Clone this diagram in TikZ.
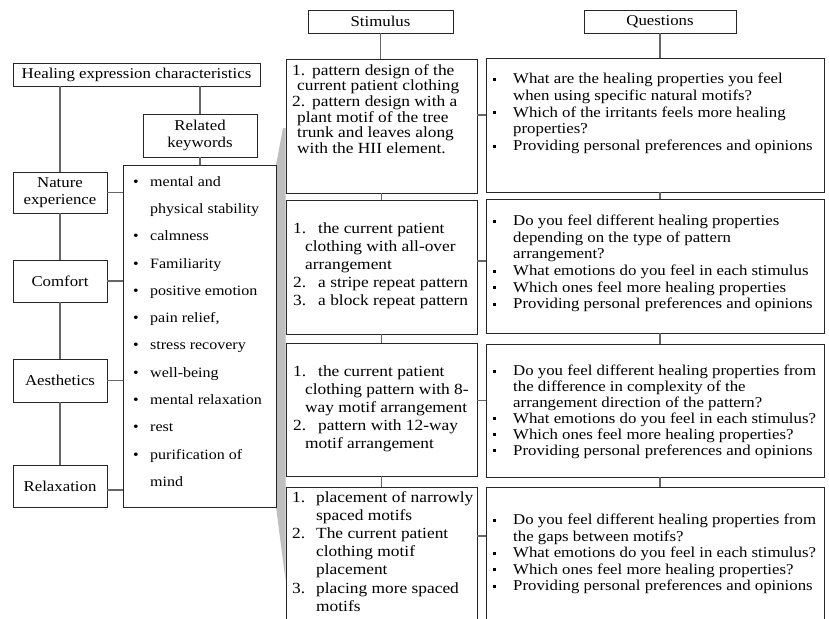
\documentclass[tikz,border=0pt]{standalone}
\usepackage{fontspec}
\setmainfont{Liberation Serif}[FakeStretch=1.12]
\usetikzlibrary{positioning}
\tikzset{
    box/.style = {rectangle, draw=black!85, line width=0.9pt, inner sep=0pt, align=center, font=\fontsize{15}{17}\selectfont},
    link/.style = {draw=black!60, line width=1.1pt},
    txt/.style = {anchor=north west, inner sep=0pt, align=left, font=\fontsize{15}{#1}\selectfont},
    stxt/.style = {anchor=north west, inner sep=0pt, align=left, font=\fontsize{15.5}{#1}\selectfont},
    kwtxt/.style = {anchor=north west, inner sep=0pt, align=left, font=\fontsize{14.3}{27.3}\selectfont},
    callout/.style = {fill=black!25, draw=none}
}
\newcommand{\numl}[2]{\makebox[#1][l]{#2}}
\newcommand{\qb}{\makebox[20pt][l]{\rule[3pt]{3pt}{3pt}}}
\newcommand{\qi}{\hspace*{20pt}}
\newcommand{\kb}{\makebox[17pt][l]{\textbullet}}

\begin{document}
\begin{tikzpicture}[x=1pt,y=-1pt]
\useasboundingbox (0,0) rectangle (829,618);
\clip (0,0) rectangle (829,618);
%
\fill[callout] (276,165) -- (283,128) -- (285.5,128) -- (285.5,580) -- (276,507) -- cycle;
%
\node[box, minimum width=247pt, minimum height=23pt] at (136.5,74.5) (heal) {Healing expression characteristics};
\node[box, minimum width=114pt, minimum height=43pt] at (200,135.5) (rel) {Related\\keywords};
\node[box, fill=white, minimum width=153pt, minimum height=342pt] at (199.5,336) (kw) {};
\node[box, minimum width=94pt, minimum height=41pt] at (60,192.5) (nat) {Nature\\experience};
\node[box, minimum width=94pt, minimum height=42pt] at (60,281) (com) {Comfort};
\node[box, minimum width=94pt, minimum height=43pt] at (60,380.5) (aes) {Aesthetics};
\node[box, minimum width=94pt, minimum height=42pt] at (60,486) (rlx) {Relaxation};
%
\node[kwtxt] at (133,176) (kwt) {\kb mental and\\ \hspace*{17pt}physical stability\\ \kb calmness\\ \kb Familiarity\\ \kb positive emotion\\ \kb pain relief,\\ \kb stress recovery\\ \kb well-being\\ \kb mental relaxation\\ \kb rest\\ \kb purification of\\ \hspace*{17pt}mind};
%
\node[box, minimum width=145pt, minimum height=23pt] at (380.5,21.5) (shead) {Stimulus};
\node[box, minimum width=152pt, minimum height=23pt] at (660,21.5) (qhead) {Questions};
%
\node[box, minimum width=191pt, minimum height=134pt] at (381.5,126) (s1) {};
\node[box, minimum width=191pt, minimum height=134pt] at (381.5,267) (s2) {};
\node[box, minimum width=191pt, minimum height=133pt] at (381.5,409.5) (s3) {};
\node[box, minimum width=191pt, minimum height=160pt] at (381.5,567) (s4) {};
\node[box, minimum width=338pt, minimum height=134pt] at (655,125) (q1) {};
\node[box, minimum width=338pt, minimum height=134pt] at (655,266) (q2) {};
\node[box, minimum width=338pt, minimum height=133pt] at (655,410.5) (q3) {};
\node[box, minimum width=338pt, minimum height=160pt] at (655,567) (q4) {};
%
\node[stxt=15.7] at (292,64) (s1t) {\numl{20pt}{1.}pattern design of the\\ \hspace*{5pt}current patient clothing\\ \numl{20pt}{2.}pattern design with a\\ \hspace*{5pt}plant motif of the tree\\ \hspace*{5pt}trunk and leaves along\\ \hspace*{5pt}with the HII element.};
\node[stxt=18] at (293,223) (s2t) {\numl{25pt}{1.}the current patient\\ \hspace*{12pt}clothing with all-over\\ \hspace*{12pt}arrangement\\ \numl{25pt}{2.}a stripe repeat pattern\\ \numl{25pt}{3.}a block repeat pattern};
\node[stxt=18] at (293,366) (s3t) {\numl{25pt}{1.}the current patient\\ \hspace*{12pt}clothing pattern with 8-\\ \hspace*{12pt}way motif arrangement\\ \numl{25pt}{2.}pattern with 12-way\\ \hspace*{12pt}motif arrangement};
\node[stxt=18.2] at (292,491) (s4t) {\numl{24pt}{1.}placement of narrowly\\ \hspace*{24pt}spaced motifs\\ \numl{24pt}{2.}The current patient\\ \hspace*{24pt}clothing motif\\ \hspace*{24pt}placement\\ \numl{24pt}{3.}placing more spaced\\ \hspace*{24pt}motifs};
%
\node[txt=16.7] at (493,73) (q1t) {\qb What are the healing properties you feel\\ \qi when using specific natural motifs?\\ \qb Which of the irritants feels more healing\\ \qi properties?\\ \qb Providing personal preferences and opinions};
\node[txt=16.6] at (493,215) (q2t) {\qb Do you feel different healing properties\\ \qi depending on the type of pattern\\ \qi arrangement?\\ \qb What emotions do you feel in each stimulus\\ \qb Which ones feel more healing properties\\ \qb Providing personal preferences and opinions};
\node[txt=15.9] at (493,365) (q3t) {\qb Do you feel different healing properties from\\ \qi the difference in complexity of the\\ \qi arrangement direction of the pattern?\\ \qb What emotions do you feel in each stimulus?\\ \qb Which ones feel more healing properties?\\ \qb Providing personal preferences and opinions};
\node[txt=16.5] at (493,514) (q4t) {\qb Do you feel different healing properties from\\ \qi the gaps between motifs?\\ \qb What emotions do you feel in each stimulus?\\ \qb Which ones feel more healing properties?\\ \qb Providing personal preferences and opinions};
%
\draw[link] (heal.south -| nat.north) -- (nat.north);
\draw[link] (heal.south -| rel.north) -- (rel.north);
\draw[link] (rel.south) -- (rel.south |- kw.north);
\draw[link] (nat.south) -- (com.north);
\draw[link] (com.south) -- (aes.north);
\draw[link] (aes.south) -- (rlx.north);
\draw[link] (nat.east) -- (nat.east -| kw.west);
\draw[link] (com.east) -- (com.east -| kw.west);
\draw[link] (aes.east) -- (aes.east -| kw.west);
\draw[link] ([yshift=-4pt]rlx.east) -- ([yshift=-4pt]rlx.east -| kw.west);
%
\draw[link] (shead.south) -- (shead.south |- s1.north);
\draw[link] (s1.south) -- (s2.north);
\draw[link] (s2.south) -- (s3.north);
\draw[link] (s3.south) -- (s4.north);
\draw[link] (qhead.south) -- (qhead.south |- q1.north);
\draw[link] (q1.south -| qhead.south) -- (q2.north -| qhead.south);
\draw[link] (q2.south -| qhead.south) -- (q3.north -| qhead.south);
\draw[link] (q3.south -| qhead.south) -- (q4.north -| qhead.south);
%
\draw[link] ([yshift=11pt]s1.east) -- ([yshift=11pt]s1.east -| q1.west);
\draw[link] ([yshift=6pt]s2.east) -- ([yshift=6pt]s2.east -| q2.west);
\draw[link] ([yshift=9pt]s3.east) -- ([yshift=9pt]s3.east -| q3.west);
\draw[link] ([yshift=31pt]s4.east) -- ([yshift=31pt]s4.east -| q4.west);

\end{tikzpicture}
\end{document}
